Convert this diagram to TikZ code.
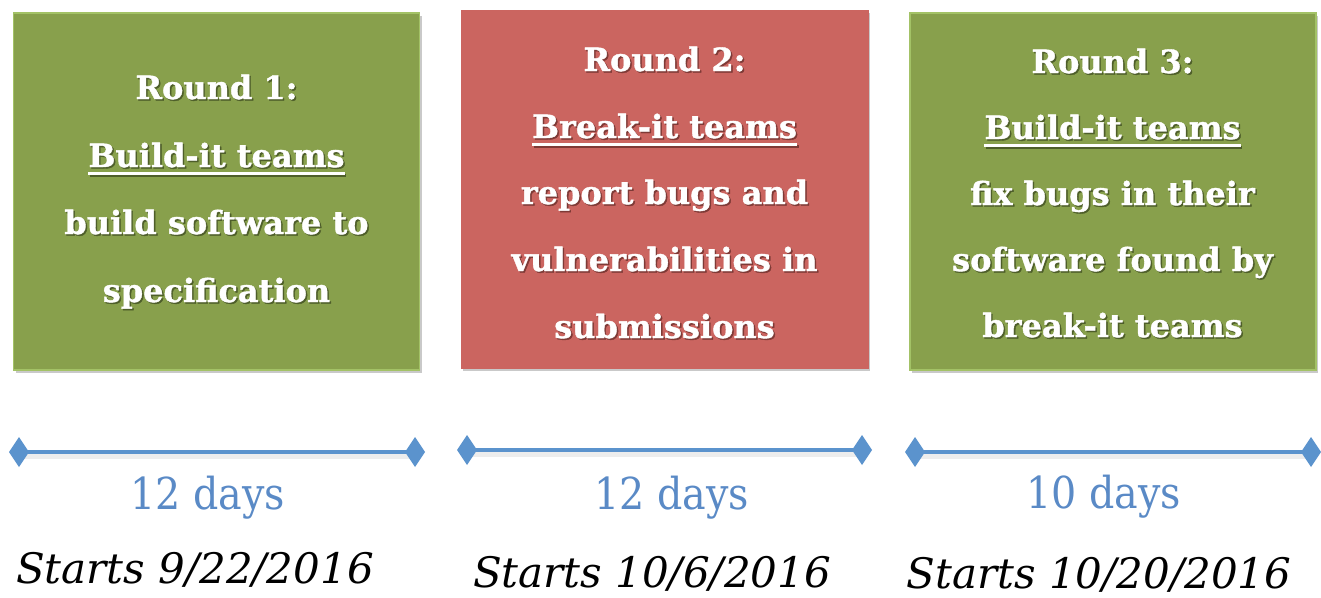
\documentclass[tikz,border=0pt]{standalone}
\usepackage{fontspec}
\usetikzlibrary{arrows.meta,shadows}
\newfontfamily\boxfont{DejaVu Serif Condensed}
\newfontfamily\headfont{DejaVu Serif}[FakeBold=1.2]
\newfontfamily\datefont{DejaVu Serif}
\definecolor{boxgreen}{HTML}{88A04C}
\definecolor{boxgreenedge}{HTML}{A3C266}
\definecolor{boxred}{HTML}{CB6560}
\definecolor{gshadow}{HTML}{4E5E2A}
\definecolor{rshadow}{HTML}{7E3A36}
\definecolor{lineblue}{HTML}{5B93CD}
\definecolor{textblue}{HTML}{5A8AC6}
\newcommand\shadowtxt[2]{\leavevmode\rlap{\kern1.5pt\raisebox{-1.5pt}{\color{#1}#2}}#2}
\newcommand\uline[1]{\setbox0\hbox{#1}\rlap{\rule[-8pt]{\wd0}{2.8pt}}\box0}
\tikzset{
  roundbox/.style={minimum width=#1, inner sep=0pt, outer sep=0pt,
    drop shadow={shadow xshift=2pt, shadow yshift=-3pt, opacity=0.3, fill=black!70}},
  greenbox/.style={roundbox=406pt, minimum height=357pt, fill=boxgreen, draw=boxgreenedge, line width=1.2pt},
  redbox/.style={roundbox=407pt, minimum height=358pt, fill=boxred, draw=boxred, line width=0.8pt},
  boxtext/.style={anchor=base, inner sep=0pt, text=white,
    font=\headfont\bfseries\fontsize{32}{38}\selectfont},
  timeline/.style={draw=lineblue, line width=4pt,
    {Diamond[length=20pt,width=30pt]}-{Diamond[length=20pt,width=30pt]}},
  tlshadow/.style={draw=black, opacity=0.07, line width=7pt},
  daystext/.style={anchor=base, inner sep=0pt, text=textblue,
    font=\boxfont\fontsize{44}{50}\selectfont},
  starttext/.style={anchor=base, inner sep=0pt, text=black,
    font=\datefont\itshape\fontsize{42}{48}\selectfont},
}
\begin{document}
\begin{tikzpicture}[x=1pt,y=-1pt]
\useasboundingbox (0,0) rectangle (1321,597);
% boxes
\node[greenbox] (b1) at (216.5,191.5) {};
\node[redbox]   (b2) at (664.5,189) {};
\node[greenbox] (b3) at (1113,191.5) {};
% box 1 text
\node[boxtext] (t11) at (216.5,99)  {\shadowtxt{gshadow}{Round 1:}};
\node[boxtext] (t12) at (216.5,167) {\shadowtxt{gshadow}{\uline{Build-it teams}}};
\node[boxtext] (t13) at (216.5,234) {\shadowtxt{gshadow}{build software to}};
\node[boxtext] (t14) at (216.5,302) {\shadowtxt{gshadow}{specification}};
% box 2 text
\node[boxtext] (t21) at (664.5,71)  {\shadowtxt{rshadow}{Round 2:}};
\node[boxtext] (t22) at (664.5,138) {\shadowtxt{rshadow}{\uline{Break-it teams}}};
\node[boxtext] (t23) at (664.5,204) {\shadowtxt{rshadow}{report bugs and}};
\node[boxtext] (t24) at (664.5,271) {\shadowtxt{rshadow}{vulnerabilities in}};
\node[boxtext] (t25) at (664.5,338) {\shadowtxt{rshadow}{submissions}};
% box 3 text
\node[boxtext] (t31) at (1112.5,73)  {\shadowtxt{gshadow}{Round 3:}};
\node[boxtext] (t32) at (1112.5,139) {\shadowtxt{gshadow}{\uline{Build-it teams}}};
\node[boxtext] (t33) at (1112.5,205) {\shadowtxt{gshadow}{fix bugs in their}};
\node[boxtext] (t34) at (1112.5,271) {\shadowtxt{gshadow}{software found by}};
\node[boxtext] (t35) at (1112.5,337) {\shadowtxt{gshadow}{break-it teams}};
% timelines
\coordinate (l1a) at (9,452);   \coordinate (l1b) at (425,452);
\coordinate (l2a) at (457,450); \coordinate (l2b) at (872,450);
\coordinate (l3a) at (905,452); \coordinate (l3b) at (1321,452);
\draw[tlshadow] ([shift={(10,3)}]l1a) -- ([shift={(-10,3)}]l1b);
\draw[tlshadow] ([shift={(10,3)}]l2a) -- ([shift={(-10,3)}]l2b);
\draw[tlshadow] ([shift={(10,3)}]l3a) -- ([shift={(-10,3)}]l3b);
\draw[timeline] (l1a) -- (l1b);
\draw[timeline] (l2a) -- (l2b);
\draw[timeline] (l3a) -- (l3b);
% durations
\node[daystext] (d1) at (208,509)  {12 days};
\node[daystext] (d2) at (672,509)  {12 days};
\node[daystext] (d3) at (1104,508) {10 days};
% start dates
\node[starttext] (s1) at (195,583)  {Starts 9/22/2016};
\node[starttext] (s2) at (652,587)  {Starts 10/6/2016};
\node[starttext] (s3) at (1099,588) {Starts 10/20/2016};
\end{tikzpicture}
\end{document}
